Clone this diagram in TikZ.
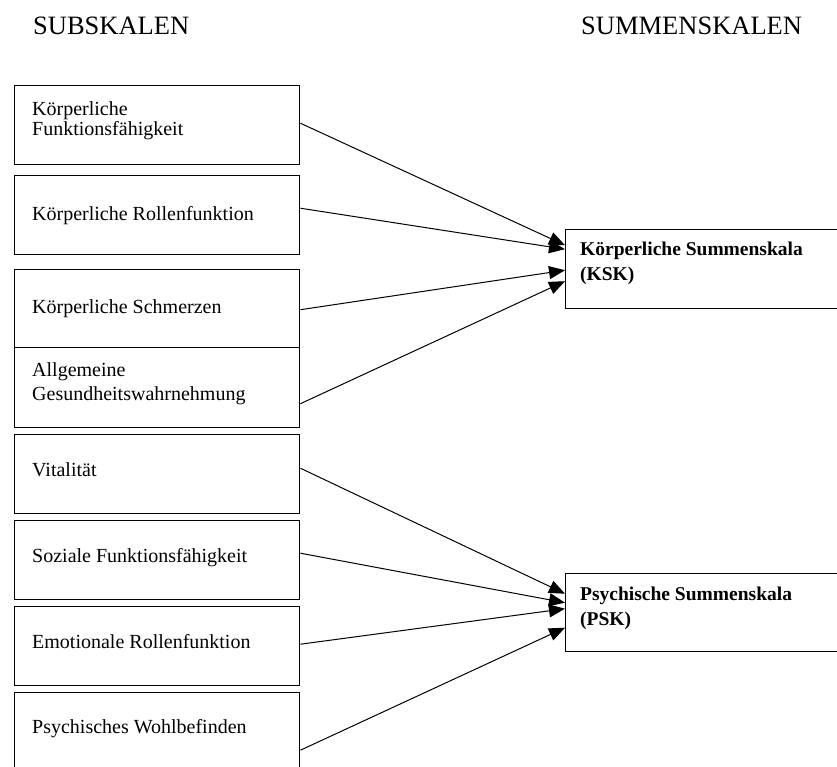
\documentclass[tikz,border=0pt]{standalone}
\usepackage{fontspec}
\setmainfont{Liberation Serif}
\usetikzlibrary{arrows.meta}
\begin{document}
\begin{tikzpicture}[x=1pt,y=-1pt,
  subbox/.style={draw,line width=1.4pt,rectangle,minimum width=285pt,minimum height=79pt,anchor=north west,inner sep=0pt},
  sumbox/.style={draw,line width=1.4pt,rectangle,minimum width=340pt,minimum height=79pt,anchor=north west,inner sep=0pt},
  txt/.style={anchor=base west,inner sep=0pt,font=\fontsize{20}{22}\selectfont},
  btxt/.style={anchor=base west,inner sep=0pt,font=\fontsize{19.5}{22}\selectfont\bfseries},
  ttl/.style={anchor=base west,inner sep=0pt,font=\fontsize{26.5}{28}\selectfont},
  conn/.style={line width=1pt,-{Triangle[length=16pt,width=13pt]}}]
\useasboundingbox (0,0) rectangle (837,766);
\fill[white] (0,0) rectangle (837,766);
\clip (0,0) rectangle (837,766);

\node[ttl] (t1) at (33,34) {SUBSKALEN};
\node[ttl] (t2) at (581,34) {SUMMENSKALEN};

\node[subbox] (b1) at (14,85) {};
\node[subbox] (b2) at (14,175) {};
\node[subbox,minimum height=78pt] (b3) at (14,269) {};
\node[subbox,minimum height=80pt] (b4) at (14,347) {};
\node[subbox] (b5) at (14,434) {};
\node[subbox] (b6) at (14,520) {};
\node[subbox] (b7) at (14,606) {};
\node[subbox,minimum height=85pt] (b8) at (14,692) {};

\node[txt] (l1a) at (32,115) {Körperliche};
\node[txt] (l1b) at (32,135) {Funktionsfähigkeit};
\node[txt] (l2) at (32,220) {Körperliche Rollenfunktion};
\node[txt] (l3) at (32,313) {Körperliche Schmerzen};
\node[txt] (l4a) at (32,376) {Allgemeine};
\node[txt] (l4b) at (32,400) {Gesundheitswahrnehmung};
\node[txt] (l5) at (32,476) {Vitalität};
\node[txt] (l6) at (32,562) {Soziale Funktionsfähigkeit};
\node[txt] (l7) at (32,648) {Emotionale Rollenfunktion};
\node[txt] (l8) at (32,733) {Psychisches Wohlbefinden};

\node[sumbox] (k) at (565,229) {};
\node[sumbox,minimum height=78pt] (p) at (565,573) {};
\node[btxt] (k1) at (580,255) {Körperliche Summenskala};
\node[btxt] (k2) at (580,280) {(KSK)};
\node[btxt] (p1) at (580,600) {Psychische Summenskala};
\node[btxt] (p2) at (580,625) {(PSK)};

\draw[conn] ([yshift=2pt]b1.east) -- ([yshift=24pt]k.west);
\draw[conn] ([yshift=7pt]b2.east) -- ([yshift=20pt]k.west);
\draw[conn] ([yshift=-1pt]b3.east) -- ([yshift=-1pt]k.west);
\draw[conn] ([yshift=-16pt]b4.east) -- ([yshift=-12pt]k.west);

\draw[conn] ([yshift=6pt]b5.east) -- ([yshift=19pt]p.west);
\draw[conn] ([yshift=7pt]b6.east) -- ([yshift=10pt]p.west);
\draw[conn] ([yshift=2pt]b7.east) -- ([yshift=4pt]p.west);
\draw[conn] ([yshift=-15pt]b8.east) -- ([yshift=-15pt]p.west);
\end{tikzpicture}
\end{document}
